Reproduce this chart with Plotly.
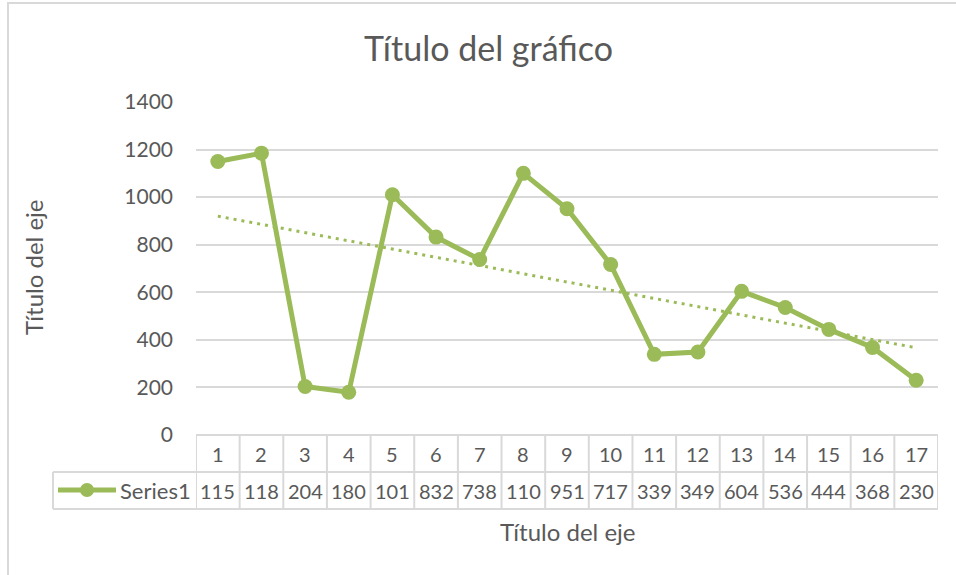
import numpy as np
import plotly.graph_objects as go

categories = list(range(1, 18))
values = [1150, 1185, 204, 180, 1010, 832, 738, 1100, 951, 717, 339, 349, 604, 536, 444, 368, 230]
table_labels = ["115", "118", "204", "180", "101", "832", "738", "110", "951", "717",
                "339", "349", "604", "536", "444", "368", "230"]
series_name = "Series1"
chart_title = "Título del gráfico"
axis_title = "Título del eje"
y_ticks = [0, 200, 400, 600, 800, 1000, 1200, 1400]

GREEN = "#9BBB59"
TEXT = "#595959"
GRID = "#D9D9D9"
FONT = "Lato"

W, H = 956, 575
L, R, T, B = 196, 938, 102, 435

def px(xp):
    return (xp - L) / (R - L)

def py(yp):
    return (B - yp) / (B - T)

coef = np.polyfit(categories, values, 1)
trend = np.polyval(coef, categories)

fig = go.Figure()
fig.add_trace(go.Scatter(x=categories, y=trend, mode="lines",
                         line=dict(color=GREEN, width=3, dash="3px,5px"),
                         hoverinfo="skip", showlegend=False))
fig.add_trace(go.Scatter(x=categories, y=values, mode="lines+markers",
                         line=dict(color=GREEN, width=5),
                         marker=dict(color=GREEN, size=15),
                         name=series_name, showlegend=False))

shapes = []
annotations = []

def ann(**kw):
    d = dict(showarrow=False, xanchor="center", yanchor="middle")
    d.update(kw)
    annotations.append(d)

row0, row1, row2 = 0, py(472), py(509)
shapes.append(dict(type="line", xref="x", yref="paper", x0=0.5, x1=17.5, y0=row0, y1=row0,
                   line=dict(color=GRID, width=2)))
for yy in (row1, row2):
    shapes.append(dict(type="line", xref="paper", yref="paper", x0=px(53), x1=1, y0=yy, y1=yy,
                       line=dict(color=GRID, width=2)))
shapes.append(dict(type="line", xref="paper", yref="paper", x0=px(53), x1=px(53), y0=row1, y1=row2,
                   line=dict(color=GRID, width=2)))
for i in range(len(categories) + 1):
    xb = categories[0] - 0.5 + i
    shapes.append(dict(type="line", xref="x", yref="paper", x0=xb, x1=xb, y0=row0, y1=row2,
                       line=dict(color=GRID, width=2)))
for c, lab in zip(categories, table_labels):
    ann(x=c, y=(row0 + row1) / 2, xref="x", yref="paper", text=str(c),
        font=dict(family=FONT, size=20, color=TEXT))
    ann(x=c, y=(row1 + row2) / 2, xref="x", yref="paper", text=lab,
        font=dict(family=FONT, size=20, color=TEXT))
ly = py(490)
shapes.append(dict(type="line", xref="paper", yref="paper", x0=px(58), x1=px(116), y0=ly, y1=ly,
                   line=dict(color=GREEN, width=5)))
shapes.append(dict(type="circle", xref="paper", yref="paper", x0=px(80), x1=px(94),
                   y0=py(497), y1=py(483), fillcolor=GREEN, line=dict(color=GREEN, width=0)))
ann(x=px(193), y=ly, xref="paper", yref="paper", text=series_name, xanchor="right",
    font=dict(family=FONT, size=22, color=TEXT))
shapes.append(dict(type="rect", xref="paper", yref="paper", x0=px(8), x1=px(1000), y0=py(600), y1=py(3),
                   line=dict(color=GRID, width=2), fillcolor="rgba(0,0,0,0)"))
ann(x=px(488), y=py(47), xref="paper", yref="paper", text=chart_title,
    font=dict(family=FONT, size=34, color=TEXT))
ann(x=px(567), y=py(531), xref="paper", yref="paper", text=axis_title,
    font=dict(family=FONT, size=24, color=TEXT))
ann(x=px(33), y=py(268), xref="paper", yref="paper", text=axis_title, textangle=-90,
    font=dict(family=FONT, size=24, color=TEXT))

fig.update_layout(
    width=W, height=H,
    margin=dict(l=L, r=W - R, t=T, b=H - B, pad=0),
    paper_bgcolor="white", plot_bgcolor="white",
    shapes=shapes, annotations=annotations,
    xaxis=dict(range=[0.5, 17.5], showticklabels=False, showgrid=False, zeroline=False,
               showline=False, fixedrange=True),
    yaxis=dict(range=[0, 1400], tickvals=y_ticks, showgrid=True, gridcolor=GRID, gridwidth=1.5,
               zeroline=False, showline=False, ticklabelstandoff=22,
               tickfont=dict(family=FONT, size=21, color=TEXT)),
    showlegend=False,
)
fig.write_html("out.html", config={"displayModeBar": False},
               post_script="document.body.style.margin='0';document.body.style.overflow='hidden';")
